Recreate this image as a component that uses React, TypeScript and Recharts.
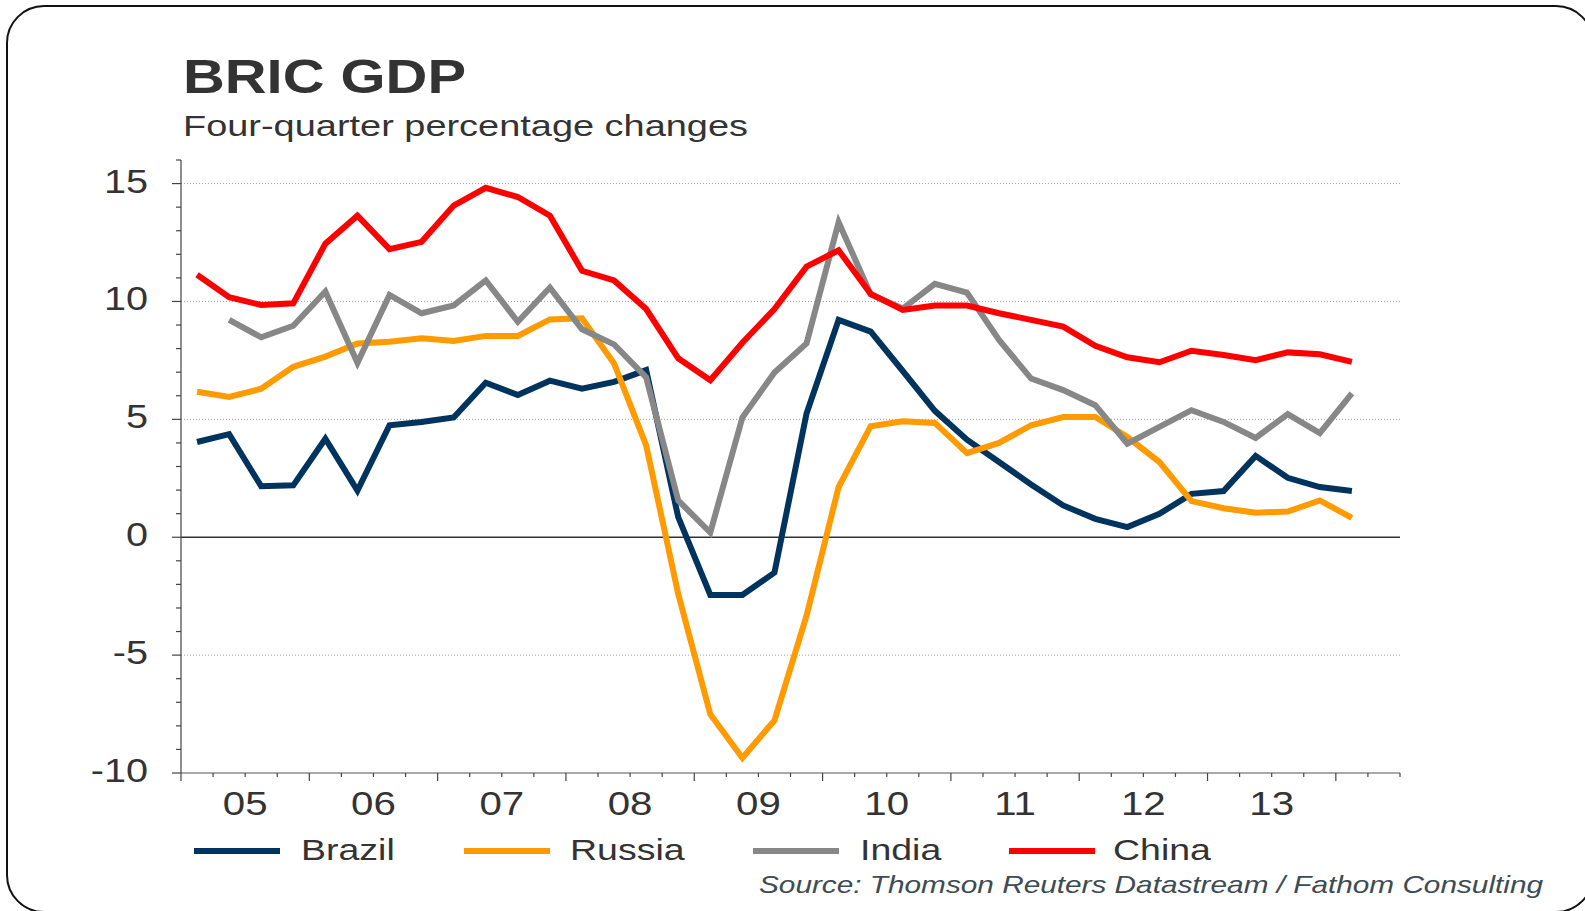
import React from "react";
import { LineChart, Line, XAxis, YAxis, CartesianGrid, ReferenceLine } from "recharts";

// quarterly, 2005Q1 .. 2014Q1 (four-quarter % changes)
const yearLabels = ["05", "06", "07", "08", "09", "10", "11", "12", "13"];

const brazil = [
  4.04, 4.37, 2.16, 2.2, 4.18, 1.98, 4.75, 4.89, 5.08, 6.55, 6.03, 6.64, 6.3, 6.59, 7.09, 0.85, -2.45, -2.45, -1.5,
  5.25, 9.22, 8.72, 7.05, 5.36, 4.14, 3.19, 2.24, 1.35, 0.78, 0.43, 0.99, 1.84, 1.96, 3.45, 2.52, 2.13, 1.96,
];
const russia = [
  6.17, 5.95, 6.3, 7.23, 7.66, 8.22, 8.29, 8.44, 8.32, 8.54, 8.54, 9.24, 9.29, 7.37, 3.9, -2.41, -7.51, -9.36, -7.77,
  -3.33, 2.13, 4.71, 4.92, 4.85, 3.57, 4.0, 4.75, 5.1, 5.1, 4.25, 3.19, 1.53, 1.23, 1.04, 1.09, 1.56, 0.82,
];
const india = [
  null, 9.22, 8.48, 8.97, 10.42, 7.4, 10.28, 9.5, 9.83, 10.89, 9.14, 10.59, 8.82, 8.18, 6.78, 1.56, 0.2, 5.08, 6.99,
  8.22, 13.36, 10.3, 9.7, 10.75, 10.38, 8.37, 6.73, 6.24, 5.6, 3.97, 4.68, 5.39, 4.89, 4.21, 5.22, 4.42, 6.1,
];
const china = [
  11.13, 10.18, 9.85, 9.92, 12.45, 13.64, 12.22, 12.53, 14.07, 14.82, 14.43, 13.64, 11.3, 10.89, 9.68, 7.59, 6.66,
  8.25, 9.68, 11.48, 12.17, 10.32, 9.64, 9.83, 9.83, 9.5, 9.22, 8.93, 8.12, 7.63, 7.42, 7.91, 7.73, 7.51, 7.84, 7.76,
  7.44,
];

const yTicks = [-10, -9, -8, -7, -6, -5, -4, -3, -2, -1, 0, 1, 2, 3, 4, 5, 6, 7, 8, 9, 10, 11, 12, 13, 14, 15, 16];
const gridValues = [-5, 5, 10, 15];
const N_QUARTERS = 38; // axis runs one quarter past the last point

const SERIES = [
  { key: "brazil", name: "Brazil", color: "#00345f" },
  { key: "russia", name: "Russia", color: "#ff9a00" },
  { key: "india", name: "India", color: "#878787" },
  { key: "china", name: "China", color: "#ff0000" },
];

const FONT = "'Liberation Sans', Arial, Helvetica, sans-serif";
const TEXT = "#333333";

const data = brazil.map((b, i) => ({
  x: i + 0.5,
  brazil: b,
  russia: russia[i],
  india: india[i],
  china: china[i],
}));

const xTicks = Array.from({ length: N_QUARTERS + 1 }, (_, i) => i);

function XTick(props: any) {
  const { x, y, payload } = props;
  const v = payload.value as number;
  const major = v % 4 === 0;
  const label = v % 4 === 2 ? yearLabels[(v - 2) / 4] : undefined;
  return (
    <g>
      <line x1={x} x2={x} y1={y} y2={y + (major ? 8 : 4)} stroke="#444" strokeWidth={1.2} />
      {label && (
        <text
          transform={`translate(${x},${y + 42}) scale(1.22,1)`}
          textAnchor="middle"
          fontFamily={FONT}
          fontSize={33}
          fill={TEXT}
        >
          {label}
        </text>
      )}
    </g>
  );
}

function YTick(props: any) {
  const { x, y, payload } = props;
  const v = payload.value as number;
  const major = v % 5 === 0;
  return (
    <g>
      <line x1={x - (major ? 9 : 5)} x2={x} y1={y} y2={y} stroke="#444" strokeWidth={1.2} />
      {major && v <= 15 && (
        <text
          transform={`translate(${x - 33},${y + 9}) scale(1.2,1)`}
          textAnchor="end"
          fontFamily={FONT}
          fontSize={33}
          fill={TEXT}
        >
          {v}
        </text>
      )}
    </g>
  );
}

// legend layout (left of line sample, left of label)
const legendPos = [
  { line: 194, text: 301 },
  { line: 464, text: 570 },
  { line: 753, text: 860 },
  { line: 1009, text: 1113 },
];

export default function App() {
  return (
    <div
      style={{
        position: "absolute",
        left: 0,
        top: 0,
        width: 1585,
        height: 911,
        overflow: "hidden",
        background: "#fff",
        fontFamily: FONT,
      }}
    >
      {/* rounded frame, bottom edge runs just off the page */}
      <div
        style={{
          position: "absolute",
          left: 6,
          top: 5,
          width: 1588,
          height: 908,
          border: "2px solid #111",
          borderRadius: 38,
          boxSizing: "border-box",
        }}
      />

      <div style={{ position: "absolute", left: 0, top: 0 }}>
        <LineChart width={1585} height={911} data={data} margin={{ top: 160, right: 185, left: 81, bottom: 78 }}>
          <CartesianGrid
            vertical={false}
            horizontalValues={gridValues}
            stroke="#a0a0a0"
            strokeDasharray="1 2"
            strokeWidth={1}
          />
          <XAxis
            type="number"
            dataKey="x"
            domain={[0, N_QUARTERS]}
            ticks={xTicks}
            interval={0}
            height={60}
            tickSize={0}
            tickMargin={0}
            tickLine={false}
            axisLine={{ stroke: "#555", strokeWidth: 1.2 }}
            tick={<XTick />}
          />
          <YAxis
            type="number"
            domain={[-10, 16]}
            ticks={yTicks}
            interval={0}
            width={100}
            tickSize={0}
            tickMargin={0}
            tickLine={false}
            axisLine={{ stroke: "#444", strokeWidth: 1.2 }}
            tick={<YTick />}
          />
          <ReferenceLine y={0} stroke="#333" strokeWidth={1.5} />
          {SERIES.map((s) => (
            <Line
              key={s.key}
              type="linear"
              dataKey={s.key}
              name={s.name}
              stroke={s.color}
              strokeWidth={6}
              dot={false}
              activeDot={false}
              isAnimationActive={false}
            />
          ))}
        </LineChart>
      </div>

      {/* titles, legend, source */}
      <svg width={1585} height={911} style={{ position: "absolute", left: 0, top: 0, pointerEvents: "none" }}>
        <text x={183} y={93} fontFamily={FONT} fontWeight="bold" fontSize={48} fill={TEXT} textLength={283} lengthAdjust="spacingAndGlyphs">
          BRIC GDP
        </text>
        <text x={183} y={136} fontFamily={FONT} fontSize={30} fill={TEXT} textLength={565} lengthAdjust="spacingAndGlyphs">
          Four-quarter percentage changes
        </text>

        {SERIES.map((s, i) => (
          <g key={s.key}>
            <line x1={legendPos[i].line} x2={legendPos[i].line + 86} y1={851} y2={851} stroke={s.color} strokeWidth={6} />
            <text
              transform={`translate(${legendPos[i].text},860) scale(1.25,1)`}
              fontFamily={FONT}
              fontSize={30}
              fill={TEXT}
            >
              {s.name}
            </text>
          </g>
        ))}

        <text
          x={759}
          y={893}
          fontFamily={FONT}
          fontStyle="italic"
          fontSize={24}
          fill="#3d4b52"
          textLength={784}
          lengthAdjust="spacingAndGlyphs"
        >
          Source: Thomson Reuters Datastream / Fathom Consulting
        </text>
      </svg>
    </div>
  );
}
